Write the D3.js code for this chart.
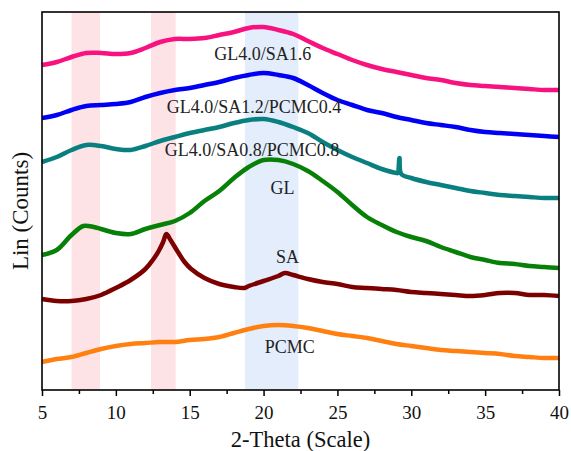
<!DOCTYPE html>
<html>
<head>
<meta charset="utf-8">
<script src="https://cdn.jsdelivr.net/npm/d3@7"></script>
<style>
  body { margin: 0; background: #fff; }
  text { font-family: "Liberation Serif", "Times New Roman", serif; }
</style>
</head>
<body>
<div id="chart"></div>
<script>
// intensities in arbitrary units (Lin counts, offset stacked)
const gl40sa16 = [[5,325],[6,328],[7,333],[8,337],[9,337],[10,336],[11,337],[12,342],[13,348],[14,351],[15,351],[16,352],[17,355],[18,358],[19,362],[20,363],[21,360],[22,356],[23,349],[24,342],[25,336],[26,330],[27,325],[28,321],[29,318],[30,315],[31,312],[32,310],[33,307],[34,305],[35,304],[36,303],[37,302],[38,301],[39,300],[40,300]];
const gl40sa12 = [[5,272],[6,275],[7,280],[8,284],[9,285],[10,286],[11,288],[12,293],[13,297],[14,300],[15,302],[16,305],[17,308],[18,312],[19,315],[20,317],[21,315],[22,312],[23,305],[24,297],[25,290],[26,285],[27,280],[28,277],[29,273],[30,270],[31,267],[32,265],[33,263],[34,260],[35,258],[36,257],[37,256],[38,255],[39,254],[40,253]];
const gl40sa08 = [[5,228],[6,233],[7,240],[8,245],[9,244],[10,241],[11,240],[12,244],[13,249],[14,253],[15,257],[16,260],[17,263],[18,267],[19,270],[20,271],[21,268],[22,263],[23,257],[24,248],[25,240],[26,233],[27,227],[28,221],[29,217],[29.08,217],[29.2,232],[29.32,216],[30,212],[31,208],[32,205],[33,202],[34,199],[35,197],[36,195],[37,194],[38,193],[39,192],[40,192]];
const gl = [[5,135],[6,140],[7,155],[7.8,164],[8.5,163],[9,161],[10,157],[11,156],[12,161],[13,165],[14,169],[15,177],[16,189],[17,199],[18,212],[19,223],[20,230],[21,230],[22,226],[23,219],[24,209],[25,198],[26,185],[27,173],[28,165],[29,158],[30,153],[31,149],[32,143],[33,138],[34,133],[35,130],[36,127],[37,126],[38,124],[39,123],[40,122]];
const sa = [[5,91],[6,89],[7,89],[8,91],[9,95],[10,102],[11,110],[12,121],[12.5,130],[12.9,139],[13.2,148],[13.42,156],[13.7,150],[14.2,138],[14.65,128],[15.1,121],[16,112],[17,106],[18,103],[18.7,102],[19,104],[20,109],[21,114],[21.45,117],[22,115],[23,111],[24,108],[25,106],[26,103],[27,102],[28,101],[29,100],[30,98],[31,97],[32,96],[33,95],[34,94],[35,95],[36,97],[37,97],[38,95],[39,95],[40,94]];
const pcmc = [[5,28],[6,31],[7,33],[8,37],[9,41],[10,44],[11,46],[12,47],[13,48],[14,48],[15,50],[16,51],[17,53],[18,57],[19,61],[20,64],[21,65],[22,64],[23,62],[24,59],[25,56],[26,54],[27,52],[28,49],[29,46],[30,44],[31,42],[32,40],[33,39],[34,38],[35,37],[36,36],[37,34],[38,33],[39,32],[40,32]];

const seriesNames = ["GL4.0/SA1.6", "GL4.0/SA1.2/PCMC0.4", "GL4.0/SA0.8/PCMC0.8", "GL", "SA", "PCMC"];
const seriesData = [gl40sa16, gl40sa12, gl40sa08, gl, sa, pcmc];
const seriesColors = ["#f7127f", "#0000f5", "#0a7f80", "#078007", "#7d0000", "#ff8010"];
// label anchors: [2-theta, counts]
const labelAnchors = [[19.94,330],[19.35,277],[19.22,234],[21.28,196],[21.62,127],[21.77,37]];

const bands = [[7.0, 8.93], [12.38, 14.05], [18.74, 22.35]];
const bandColors = ["#fde3e6", "#fde3e6", "#e3edfb"];

const xTicks = [5, 10, 15, 20, 25, 30, 35, 40];
const xMinorTicks = [7.5, 12.5, 17.5, 22.5, 27.5, 32.5, 37.5];

const width = 571, height = 451;
const margin = {top: 12, right: 12, bottom: 61, left: 42};
const innerW = width - margin.left - margin.right;
const innerH = height - margin.top - margin.bottom;

const svg = d3.select("#chart").append("svg")
  .attr("width", width)
  .attr("height", height);

const g = svg.append("g")
  .attr("transform", `translate(${margin.left},${margin.top})`);

const x = d3.scaleLinear().domain([5, 40]).range([0, innerW]);
const y = d3.scaleLinear().domain([0, 378]).range([innerH, 0]);

// highlighted regions
g.selectAll("rect.band")
  .data(bands)
  .enter()
  .append("rect")
  .attr("class", "band")
  .attr("x", d => x(d[0]))
  .attr("y", 0)
  .attr("width", d => x(d[1]) - x(d[0]))
  .attr("height", innerH)
  .attr("fill", (d, i) => bandColors[i]);

// patterns
const line = d3.line()
  .x(d => x(d[0]))
  .y(d => y(d[1]))
  .curve(d3.curveCatmullRom.alpha(0.5));

g.selectAll("path.pattern")
  .data(seriesData)
  .enter()
  .append("path")
  .attr("class", "pattern")
  .attr("d", d => line(d))
  .attr("fill", "none")
  .attr("stroke", (d, i) => seriesColors[i])
  .attr("stroke-width", 4.5)
  .attr("stroke-linejoin", "round");

// sample labels
g.selectAll("text.lbl")
  .data(seriesNames)
  .enter()
  .append("text")
  .attr("class", "lbl")
  .attr("x", (d, i) => x(labelAnchors[i][0]))
  .attr("y", (d, i) => y(labelAnchors[i][1]))
  .attr("text-anchor", "middle")
  .attr("font-size", 18)
  .attr("fill", "#222")
  .text(d => d);

// x axis with major + minor ticks
const xAxis = g.append("g")
  .attr("transform", `translate(0,${innerH})`)
  .call(d3.axisBottom(x).tickValues(xTicks).tickSize(6).tickFormat(d3.format("d")).tickSizeOuter(0));
xAxis.select(".domain").remove();
xAxis.selectAll("line").attr("stroke", "#000").attr("stroke-width", 1.5);
xAxis.selectAll("text")
  .attr("font-size", 19)
  .attr("fill", "#111")
  .attr("dy", null)
  .attr("y", 29);

const xMinor = g.append("g")
  .attr("transform", `translate(0,${innerH})`)
  .call(d3.axisBottom(x).tickValues(xMinorTicks).tickSize(4).tickFormat(""));
xMinor.select(".domain").remove();
xMinor.selectAll("line").attr("stroke", "#000").attr("stroke-width", 1.5);

// frame
g.append("rect")
  .attr("x", 0)
  .attr("y", 0)
  .attr("width", innerW)
  .attr("height", innerH)
  .attr("fill", "none")
  .attr("stroke", "#000")
  .attr("stroke-width", 1.6);

// axis titles
svg.append("text")
  .attr("x", margin.left + innerW / 2)
  .attr("y", 447)
  .attr("text-anchor", "middle")
  .attr("font-size", 22.5)
  .attr("fill", "#111")
  .text("2-Theta (Scale)");

svg.append("text")
  .attr("transform", "translate(28,211) rotate(-90)")
  .attr("text-anchor", "middle")
  .attr("font-size", 23)
  .attr("fill", "#111")
  .text("Lin (Counts)");
</script>
</body>
</html>
